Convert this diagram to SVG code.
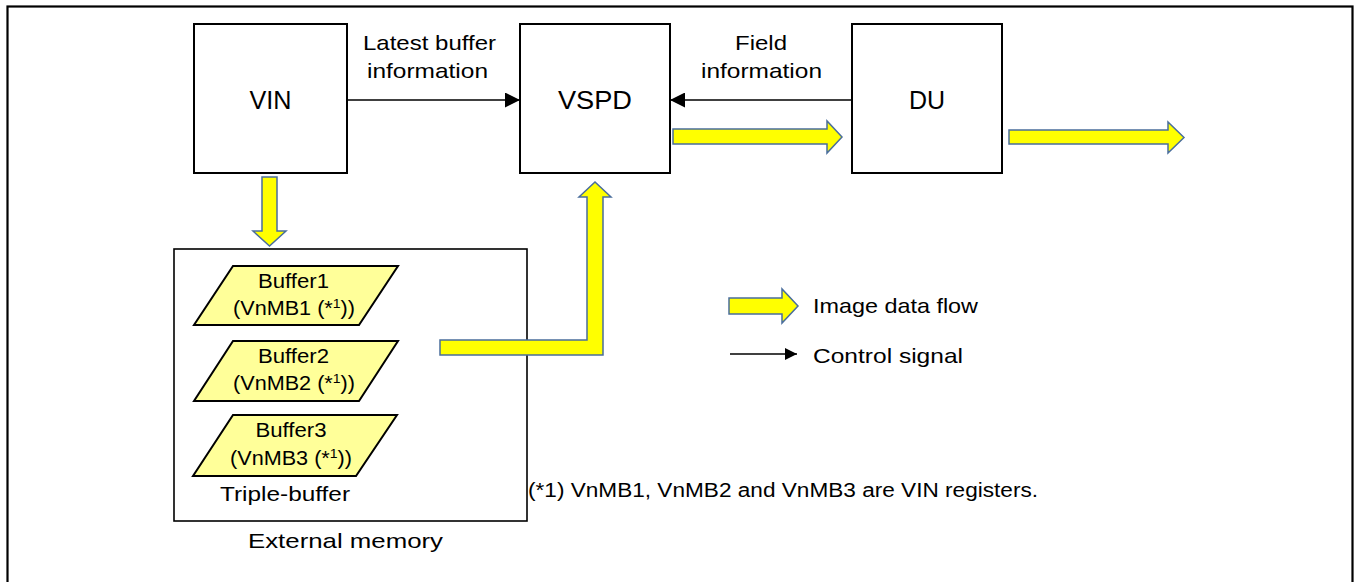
<svg xmlns="http://www.w3.org/2000/svg" width="1354" height="582" viewBox="0 0 1354 582">
<style>
text{font-family:"Liberation Sans",Arial,sans-serif;fill:#000}
.box{fill:#fff;stroke:#000;stroke-width:2}
.mem{fill:none;stroke:#000;stroke-width:1.6}
.buf{fill:#FFFF99;stroke:#000;stroke-width:2}
.flow{fill:#FFFF00;stroke:#4A6E9C;stroke-width:1.5;stroke-linejoin:miter}
.ctl{stroke:#000;stroke-width:1.6;fill:none}
.big{font-size:25px}
.lbl{font-size:21px}
.bt{font-size:20px}
.ft{font-size:20px}
</style>
<defs>
<marker id="ah" viewBox="0 0 10 10" refX="10" refY="5" markerWidth="12" markerHeight="12" markerUnits="userSpaceOnUse" orient="auto">
<path d="M0,0 L10,5 L0,10 z" fill="#000"/>
</marker>
<marker id="ah2" viewBox="0 0 10 10" refX="10" refY="5" markerWidth="15" markerHeight="15" markerUnits="userSpaceOnUse" orient="auto">
<path d="M0,0 L10,5 L0,10 z" fill="#000"/>
</marker>
</defs>
<rect x="7.5" y="6.5" width="1345" height="600" fill="none" stroke="#000" stroke-width="2.2"/>

<g id="VIN">
<rect class="box" x="194" y="24" width="153" height="149"/>
<text class="big" x="270.5" y="109" text-anchor="middle" textLength="42" lengthAdjust="spacingAndGlyphs">VIN</text>
</g>
<g id="VSPD">
<rect class="box" x="520" y="24" width="150" height="149"/>
<text class="big" x="595" y="109" text-anchor="middle" textLength="74" lengthAdjust="spacingAndGlyphs">VSPD</text>
</g>
<g id="DU">
<rect class="box" x="852" y="24" width="150" height="149"/>
<text class="big" x="927" y="109" text-anchor="middle">DU</text>
</g>

<g id="ExternalMemory">
<rect class="mem" x="174" y="249" width="353" height="272"/>
<text class="lbl" x="345.5" y="548" text-anchor="middle" textLength="195" lengthAdjust="spacingAndGlyphs">External memory</text>
<text class="lbl" x="285" y="501" text-anchor="middle" textLength="130" lengthAdjust="spacingAndGlyphs">Triple-buffer</text>
</g>
<g id="Buffer1">
<polygon class="buf" points="233,266 398,266 359,325 194,325"/>
<text class="bt" x="293.5" y="288" text-anchor="middle" textLength="71" lengthAdjust="spacingAndGlyphs">Buffer1</text>
<text class="bt" x="233" y="315" textLength="122" lengthAdjust="spacingAndGlyphs">(VnMB1 (*<tspan font-size="13" dy="-7">1</tspan><tspan dy="7">))</tspan></text>
</g>
<g id="Buffer2">
<polygon class="buf" points="233,341 398,341 359,401 194,401"/>
<text class="bt" x="293.5" y="363" text-anchor="middle" textLength="71" lengthAdjust="spacingAndGlyphs">Buffer2</text>
<text class="bt" x="233" y="390" textLength="122" lengthAdjust="spacingAndGlyphs">(VnMB2 (*<tspan font-size="13" dy="-7">1</tspan><tspan dy="7">))</tspan></text>
</g>
<g id="Buffer3">
<polygon class="buf" points="233,415 397,415 356,476 193,476"/>
<text class="bt" x="291" y="437" text-anchor="middle" textLength="71" lengthAdjust="spacingAndGlyphs">Buffer3</text>
<text class="bt" x="230" y="465" textLength="122" lengthAdjust="spacingAndGlyphs">(VnMB3 (*<tspan font-size="13" dy="-7">1</tspan><tspan dy="7">))</tspan></text>
</g>

<g id="connectors">
<line class="ctl" x1="347" y1="100" x2="520" y2="100" marker-end="url(#ah2)"/>
<line class="ctl" x1="852" y1="100" x2="670" y2="100" marker-end="url(#ah2)"/>
<polygon class="flow" points="673,129 827,129 827,121 842,137 827,153 827,144 673,144"/>
<polygon class="flow" points="1009,130 1168,130 1168,122 1184,137.5 1168,153 1168,144 1009,144"/>
<polygon class="flow" points="262,177 277,177 277,231 286,231 269.5,246 253,231 262,231"/>
<polygon class="flow" points="440,340 587,340 587,197 579,197 595,182 611,197 603,197 603,355 440,355"/>
</g>
<g id="labels">
<text class="lbl" x="429.5" y="50" text-anchor="middle" textLength="133" lengthAdjust="spacingAndGlyphs">Latest buffer</text>
<text class="lbl" x="427.5" y="78" text-anchor="middle" textLength="121" lengthAdjust="spacingAndGlyphs">information</text>
<text class="lbl" x="761" y="50" text-anchor="middle" textLength="52" lengthAdjust="spacingAndGlyphs">Field</text>
<text class="lbl" x="761.5" y="78" text-anchor="middle" textLength="121" lengthAdjust="spacingAndGlyphs">information</text>
</g>

<g id="legend">
<polygon class="flow" points="729,298 782,298 782,289 798,306 782,323 782,314 729,314"/>
<text class="lbl" x="813" y="313" textLength="165" lengthAdjust="spacingAndGlyphs">Image data flow</text>
<line class="ctl" x1="730" y1="354" x2="797" y2="354" marker-end="url(#ah)"/>
<text class="lbl" x="813" y="363" textLength="150" lengthAdjust="spacingAndGlyphs">Control signal</text>
</g>

<text class="ft" x="528" y="497" textLength="510" lengthAdjust="spacingAndGlyphs">(*1) VnMB1, VnMB2 and VnMB3 are VIN registers.</text>
</svg>
